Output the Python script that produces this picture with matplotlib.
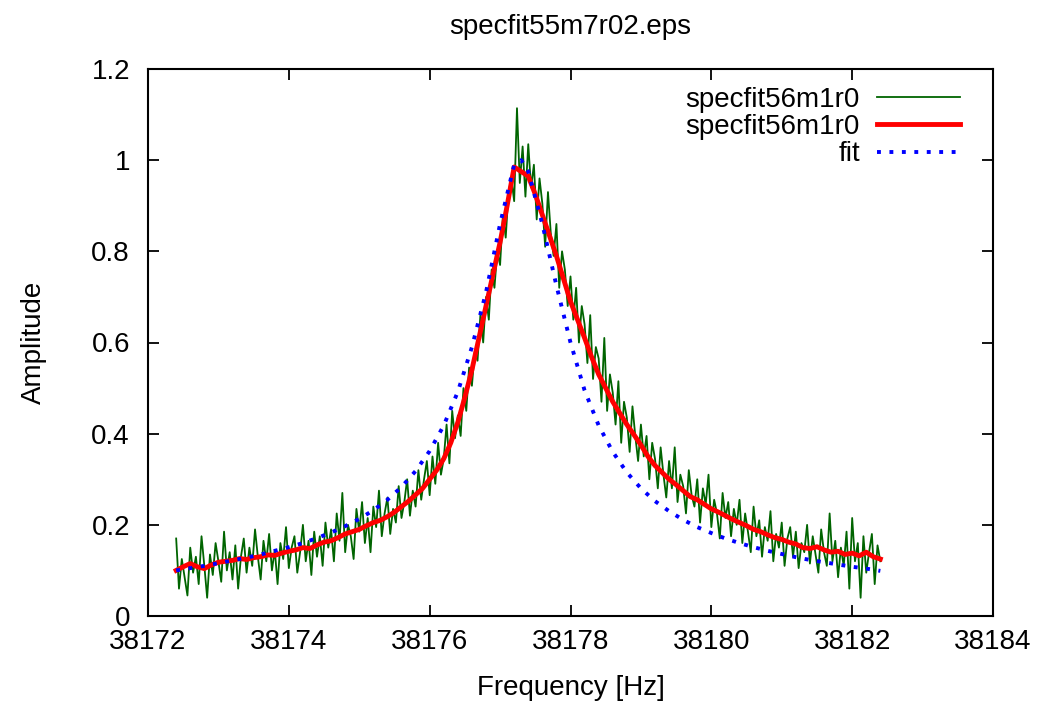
import numpy as np
import matplotlib
matplotlib.use('Agg')
import matplotlib.pyplot as plt

plt.rcParams['font.family'] = ['Liberation Sans', 'DejaVu Sans']

# raw spectrum, 0.04 Hz steps from 38172.40 to 38182.40
raw_start, raw_step = 38172.40, 0.04
raw_amp = [
    0.170, 0.060, 0.125, 0.085, 0.045, 0.150, 0.095, 0.130, 0.070, 0.175, 0.110, 0.040, 0.135,
    0.090, 0.160, 0.120, 0.075, 0.185, 0.100, 0.140, 0.080, 0.155, 0.060, 0.130, 0.170,
    0.095, 0.150, 0.110, 0.190, 0.130, 0.080, 0.165, 0.120, 0.180, 0.100, 0.145, 0.070, 0.160,
    0.125, 0.195, 0.105, 0.150, 0.175, 0.095, 0.140, 0.200, 0.120, 0.165, 0.090, 0.185,
    0.130, 0.175, 0.110, 0.205, 0.150, 0.190, 0.120, 0.225, 0.165, 0.270, 0.140, 0.200, 0.175,
    0.125, 0.235, 0.185, 0.250, 0.160, 0.215, 0.140, 0.240, 0.195, 0.275, 0.175, 0.225,
    0.260, 0.180, 0.235, 0.205, 0.285, 0.215, 0.250, 0.300, 0.220, 0.275, 0.240, 0.320, 0.255,
    0.300, 0.340, 0.265, 0.350, 0.290, 0.380, 0.310, 0.345, 0.420, 0.335, 0.450, 0.390,
    0.440, 0.395, 0.500, 0.450, 0.545, 0.505, 0.580, 0.560, 0.660, 0.600, 0.700, 0.650, 0.760,
    0.720, 0.800, 0.770, 0.880, 0.830, 0.930, 0.960, 0.910, 1.114, 0.950, 1.030, 0.920,
    1.035, 0.940, 0.990, 0.870, 0.960, 0.905, 0.810, 0.930, 0.840, 0.790, 0.860, 0.720, 0.800,
    0.760, 0.680, 0.745, 0.650, 0.720, 0.600, 0.680, 0.640, 0.555, 0.660, 0.520, 0.590,
    0.565, 0.470, 0.610, 0.450, 0.530, 0.490, 0.420, 0.515, 0.380, 0.470, 0.435, 0.360, 0.460,
    0.395, 0.340, 0.420, 0.350, 0.395, 0.300, 0.380, 0.345, 0.280, 0.370, 0.310, 0.260,
    0.340, 0.280, 0.370, 0.250, 0.310, 0.285, 0.225, 0.320, 0.265, 0.240, 0.300, 0.205, 0.280,
    0.245, 0.310, 0.195, 0.255, 0.225, 0.170, 0.270, 0.215, 0.250, 0.175, 0.235, 0.200,
    0.255, 0.160, 0.225, 0.185, 0.140, 0.240, 0.175, 0.210, 0.130, 0.195, 0.165, 0.230, 0.120,
    0.180, 0.150, 0.205, 0.110, 0.170, 0.195, 0.130, 0.185, 0.105, 0.160, 0.140, 0.200,
    0.115, 0.175, 0.135, 0.095, 0.190, 0.140, 0.110, 0.225, 0.120, 0.165, 0.085, 0.150, 0.110,
    0.185, 0.060, 0.215, 0.120, 0.160, 0.040, 0.175, 0.095, 0.140, 0.180, 0.070, 0.155, 0.120,
]

# smoothed spectrum, 0.1 Hz steps
smooth_start, smooth_step = 38172.4, 0.1
smooth_amp = [
    0.100, 0.108, 0.115, 0.108, 0.104, 0.112, 0.118, 0.120, 0.122, 0.126,
    0.124, 0.128, 0.130, 0.134, 0.133, 0.138, 0.142, 0.145, 0.150, 0.148,
    0.156, 0.162, 0.165, 0.172, 0.180, 0.185, 0.190, 0.198, 0.205, 0.210,
    0.218, 0.228, 0.240, 0.252, 0.266, 0.280, 0.300, 0.320, 0.345, 0.380,
    0.425, 0.480, 0.540, 0.610, 0.680, 0.750, 0.820, 0.900, 0.985, 0.975,
    0.965, 0.925, 0.880, 0.835, 0.790, 0.740, 0.690, 0.650, 0.610, 0.568,
    0.530, 0.500, 0.470, 0.445, 0.420, 0.398, 0.375, 0.350, 0.330, 0.315,
    0.300, 0.288, 0.275, 0.262, 0.255, 0.245, 0.235, 0.228, 0.220, 0.212,
    0.205, 0.198, 0.190, 0.185, 0.178, 0.172, 0.168, 0.162, 0.158, 0.150,
    0.148, 0.152, 0.145, 0.140, 0.142, 0.135, 0.138, 0.132, 0.140, 0.130,
    0.125,
]

# fit curve
fit_freq = [38172.4, 38172.6, 38172.8, 38173.0, 38173.2, 38173.4, 38173.6, 38173.8,
            38174.0, 38174.2, 38174.4, 38174.6, 38174.8, 38175.0, 38175.2, 38175.4,
            38175.6, 38175.8, 38176.0, 38176.2, 38176.4, 38176.6, 38176.8, 38177.0,
            38177.2, 38177.3, 38177.4, 38177.6, 38177.8, 38178.0, 38178.2, 38178.4,
            38178.6, 38178.8, 38179.0, 38179.2, 38179.4, 38179.6, 38179.8, 38180.0,
            38180.2, 38180.4, 38180.6, 38180.8, 38181.0, 38181.2, 38181.4, 38181.6,
            38181.8, 38182.0, 38182.2, 38182.4]
fit_amp = [0.100, 0.105, 0.110, 0.116, 0.122, 0.128, 0.135, 0.143,
           0.151, 0.160, 0.171, 0.183, 0.197, 0.213, 0.232, 0.255,
           0.283, 0.318, 0.362, 0.418, 0.492, 0.590, 0.710, 0.860,
           0.990, 1.000, 0.975, 0.860, 0.725, 0.600, 0.495, 0.418,
           0.360, 0.315, 0.280, 0.252, 0.230, 0.211, 0.195, 0.182,
           0.170, 0.160, 0.151, 0.143, 0.136, 0.129, 0.123, 0.118,
           0.113, 0.108, 0.104, 0.099]

xticks = [38172, 38174, 38176, 38178, 38180, 38182, 38184]
yticks = [0, 0.2, 0.4, 0.6, 0.8, 1, 1.2]
yticklabels = ['0', '0.2', '0.4', '0.6', '0.8', '1', '1.2']


def draw():
    raw_freq = raw_start + raw_step * np.arange(len(raw_amp))
    smooth_freq = smooth_start + smooth_step * np.arange(len(smooth_amp))

    fig = plt.figure(figsize=(10.44, 7.05), dpi=100)
    ax = fig.add_axes([148 / 1044, 89 / 705, 845 / 1044, 547 / 705])

    ax.plot(raw_freq, raw_amp, color='#006400', lw=1.3, label='specfit56m1r0')
    ax.plot(smooth_freq, smooth_amp, color='#ff0000', lw=3.5, label='specfit56m1r0')
    ax.plot(fit_freq, fit_amp, color='#0000ff', lw=2.8, dashes=(1, 2.2),
            label='fit')

    ax.set_xlim(38172, 38184)
    ax.set_ylim(0, 1.2)
    ax.set_xticks(xticks)
    ax.set_xticklabels([str(t) for t in xticks])
    ax.set_yticks(yticks)
    ax.set_yticklabels(yticklabels)
    ax.tick_params(direction='in', length=8, width=1.3, labelsize=20,
                   top=True, right=True)
    ax.tick_params(axis='y', pad=13)
    ax.tick_params(axis='x', pad=9.5)
    for s in ax.spines.values():
        s.set_linewidth(1.5)

    ax.set_xlabel('Frequency [Hz]', fontsize=20, labelpad=14)
    ax.set_ylabel('Amplitude', fontsize=20, labelpad=32)
    ax.set_title('specfit55m7r02.eps', fontsize=20, pad=25)

    ax.legend(loc='upper right', bbox_to_anchor=(0.961, 0.968), frameon=False,
              markerfirst=False, fontsize=20, handlelength=3, handletextpad=0.6,
              labelspacing=0.05, borderaxespad=0, borderpad=0)

    fig.savefig('out.png', dpi=100)


if __name__ == '__main__':
    draw()
